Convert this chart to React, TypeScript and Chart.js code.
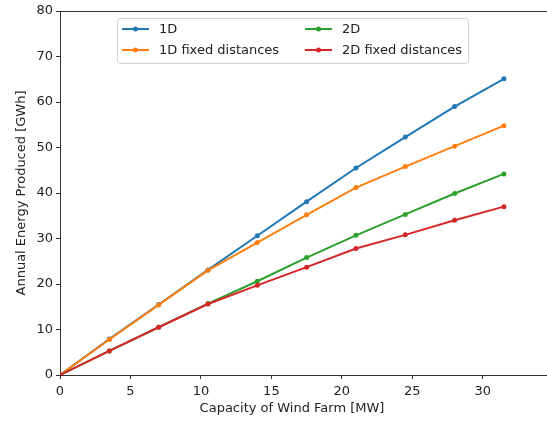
import React, { useEffect, useRef } from "react";
import { Chart, registerables } from "chart.js";

Chart.register(...registerables);

const capacity = [0, 3.5, 7, 10.5, 14, 17.5, 21, 24.5, 28, 31.5];
const energy1D = [0, 7.9, 15.5, 23.1, 30.6, 38.1, 45.5, 52.3, 59.0, 65.1];
const energy1DFixed = [0, 7.8, 15.4, 23.0, 29.1, 35.2, 41.2, 45.8, 50.3, 54.8];
const energy2D = [0, 5.3, 10.5, 15.7, 20.6, 25.8, 30.7, 35.3, 39.9, 44.2];
const energy2DFixed = [0, 5.3, 10.5, 15.6, 19.7, 23.7, 27.8, 30.8, 34.0, 37.0];
const xTicks = [0, 5, 10, 15, 20, 25, 30];
const yTicks = [0, 10, 20, 30, 40, 50, 60, 70, 80];

const seriesNames = ["1D", "1D fixed distances", "2D", "2D fixed distances"];
const seriesColors = ["#1f77b4", "#ff7f0e", "#2ca02c", "#d62728"];
const seriesValues = [energy1D, energy1DFixed, energy2D, energy2DFixed];

const FONT = "'DejaVu Sans', sans-serif";
const TEXT = "#222";

const overlay = {
  id: "overlay",
  afterDraw(chart: any) {
    const ctx = chart.ctx;
    const area = chart.chartArea;
    ctx.save();
    // top and bottom spines extended to the image edge
    ctx.strokeStyle = "#333";
    ctx.lineWidth = 1;
    ctx.beginPath();
    ctx.moveTo(area.left, area.top + 0.5);
    ctx.lineTo(547, area.top + 0.5);
    ctx.moveTo(area.right - 1, Math.round(area.bottom) + 0.5);
    ctx.lineTo(547, Math.round(area.bottom) + 0.5);
    ctx.stroke();

    // x title
    ctx.fillStyle = TEXT;
    ctx.font = `13px ${FONT}`;
    ctx.textAlign = "center";
    ctx.textBaseline = "middle";
    ctx.fillText("Capacity of Wind Farm [MW]", 292, 409);

    // legend
    const bx = 117, by = 18, bw = 351, bh = 45, r = 3;
    ctx.fillStyle = "rgba(255,255,255,0.8)";
    ctx.strokeStyle = "#d0d0d0";
    ctx.lineWidth = 1;
    ctx.beginPath();
    ctx.moveTo(bx + r, by + 0.5);
    ctx.lineTo(bx + bw - r, by + 0.5);
    ctx.arcTo(bx + bw + 0.5, by + 0.5, bx + bw + 0.5, by + r, r);
    ctx.lineTo(bx + bw + 0.5, by + bh - r);
    ctx.arcTo(bx + bw + 0.5, by + bh + 0.5, bx + bw - r, by + bh + 0.5, r);
    ctx.lineTo(bx + r, by + bh + 0.5);
    ctx.arcTo(bx + 0.5, by + bh + 0.5, bx + 0.5, by + bh - r, r);
    ctx.lineTo(bx + 0.5, by + r);
    ctx.arcTo(bx + 0.5, by + 0.5, bx + r, by + 0.5, r);
    ctx.closePath();
    ctx.fill();
    ctx.stroke();

    const pos = [
      [122, 29],
      [122, 50],
      [305, 29],
      [305, 50],
    ];
    seriesNames.forEach((name, i) => {
      const [lx, ly] = pos[i];
      ctx.strokeStyle = seriesColors[i];
      ctx.lineWidth = 2;
      ctx.beginPath();
      ctx.moveTo(lx, ly);
      ctx.lineTo(lx + 27, ly);
      ctx.stroke();
      ctx.fillStyle = seriesColors[i];
      ctx.beginPath();
      ctx.arc(lx + 13.5, ly, 2.5, 0, Math.PI * 2);
      ctx.fill();
      ctx.fillStyle = TEXT;
      ctx.font = `13px ${FONT}`;
      ctx.textAlign = "left";
      ctx.textBaseline = "middle";
      ctx.fillText(name, lx + 37, ly + 1);
    });
    ctx.restore();
  },
};

export default function App() {
  const ref = useRef<HTMLCanvasElement | null>(null);
  useEffect(() => {
    document.body.style.margin = "0";
    if (!ref.current) return;
    const chart = new Chart(ref.current, {
      type: "line",
      data: {
        datasets: seriesValues.map((vals, i) => ({
          label: seriesNames[i],
          data: capacity.map((c, j) => ({ x: c, y: vals[j] })),
          borderColor: seriesColors[i],
          backgroundColor: seriesColors[i],
          borderWidth: 2,
          pointRadius: 2.5,
          pointBorderWidth: 0,
          pointHoverRadius: 2.5,
          tension: 0,
          fill: false,
          order: seriesNames.length - 1 - i,
        })),
      },
      options: {
        responsive: false,
        animation: false,
        devicePixelRatio: 1,
        layout: { padding: { top: 11, right: 0, left: 0, bottom: 0 } },
        plugins: {
          legend: { display: false },
          tooltip: { enabled: false },
        },
        scales: {
          x: {
            type: "linear",
            min: 0,
            max: 34.38,
            afterBuildTicks: (s: any) => {
              s.ticks = xTicks.map((v) => ({ value: v }));
            },
            afterFit: (s: any) => {
              s.height = 47;
            },
            grid: {
              drawOnChartArea: false,
              drawTicks: true,
              tickLength: 4,
              tickColor: "#333",
            },
            border: { display: true, color: "#333", width: 1 },
            ticks: {
              color: TEXT,
              font: { family: FONT, size: 13 },
              padding: 5,
              maxRotation: 0,
            },
          },
          y: {
            type: "linear",
            min: 0,
            max: 80,
            afterBuildTicks: (s: any) => {
              s.ticks = yTicks.map((v) => ({ value: v }));
            },
            afterFit: (s: any) => {
              s.width = 60;
            },
            grid: {
              drawOnChartArea: false,
              drawTicks: true,
              tickLength: 4,
              tickColor: "#333",
            },
            border: { display: true, color: "#333", width: 1 },
            ticks: {
              color: TEXT,
              font: { family: FONT, size: 13 },
              padding: 3,
            },
            title: {
              display: true,
              text: "Annual Energy Produced [GWh]",
              color: TEXT,
              font: { family: FONT, size: 13 },
              padding: { top: 14, bottom: 0 },
            },
          },
        },
      },
      plugins: [overlay],
    });
    return () => chart.destroy();
  }, []);
  return (
    <div style={{ width: 547, height: 422, background: "#fff" }}>
      <canvas ref={ref} width={547} height={422} />
    </div>
  );
}
